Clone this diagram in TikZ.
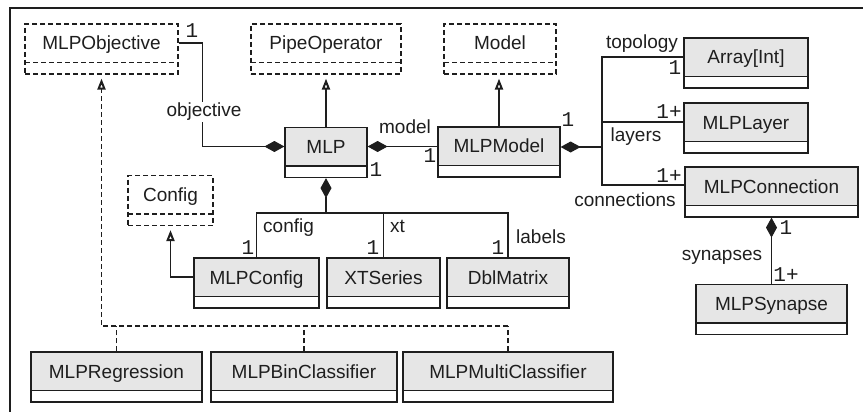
\documentclass[tikz,border=0pt]{standalone}
\usepackage{fontspec}
\setmainfont{Liberation Sans}
\newfontfamily\multfont{Liberation Mono}
\usetikzlibrary{arrows.meta,calc}
\definecolor{clsgrey}{HTML}{E6E6E6}
\definecolor{ink}{HTML}{1E1E1E}
\tikzset{
  clsfont/.style={font=\fontsize{19}{22}\selectfont},
  cls/.style={draw=ink, line width=1.2pt, fill=white, inner sep=0pt,
    text height=26pt, text depth=24pt, clsfont, text=ink,
    path picture={
      \fill[clsgrey] (path picture bounding box.north west) rectangle ([yshift=11.5pt]path picture bounding box.south east);
      \draw[ink, line width=1.2pt] ([yshift=11.5pt]path picture bounding box.south west) -- ([yshift=11.5pt]path picture bounding box.south east);}},
  dcls/.style={draw=ink, line width=1.1pt, dash pattern=on 5pt off 3pt, fill=white, inner sep=0pt,
    text height=26pt, text depth=24pt, clsfont, text=ink,
    path picture={
      \draw[ink, line width=1.1pt, dash pattern=on 5pt off 3pt] ([yshift=11.5pt]path picture bounding box.south west) -- ([yshift=11.5pt]path picture bounding box.south east);}},
  lbl/.style={clsfont, inner sep=1pt, text=ink},
  mult/.style={font=\multfont\fontsize{21}{22}\selectfont, inner sep=0pt, text=ink},
  wire/.style={draw=ink, line width=1.2pt},
  comp/.style={wire, {Diamond[length=20pt,width=11pt]}-},
  gen/.style={wire, -{Triangle[open,length=11pt,width=8pt,line width=2pt]}, shorten >=4pt},
  real/.style={gen, dash pattern=on 5pt off 3pt},
  rline/.style={wire, dash pattern=on 5pt off 3pt},
}
\begin{document}
\begin{tikzpicture}[x=1pt,y=-1pt]
\useasboundingbox (0,0) rectangle (863,412);
\draw[ink, line width=1.5pt] (10,412) -- (10,8) -- (863,8);

% classes
\node[dcls, minimum width=153pt] (obj) at (101.5,49) {MLPObjective};
\node[dcls, minimum width=150pt] (pipe) at (326,49) {PipeOperator};
\node[dcls, minimum width=112pt] (model) at (500,49) {Model};
\node[cls, minimum width=82pt] (mlp) at (326,152.5) {MLP};
\node[cls, minimum width=122pt] (mlpm) at (499,152) {MLPModel};
\node[cls, minimum width=124pt] (arr) at (746,63) {Array[Int]};
\node[cls, minimum width=124pt] (layer) at (746,128) {MLPLayer};
\node[cls, minimum width=173pt] (conn) at (771.5,192) {MLPConnection};
\node[cls, minimum width=151pt] (syn) at (771.5,309.5) {MLPSynapse};
\node[dcls, minimum width=85pt] (cfg) at (170.5,200.5) {Config};
\node[cls, minimum width=125pt] (mcfg) at (256.5,283) {MLPConfig};
\node[cls, minimum width=113pt] (xts) at (383.5,283) {XTSeries};
\node[cls, minimum width=122pt] (dbl) at (508,283) {DblMatrix};
\node[cls, minimum width=171pt] (reg) at (116.5,377) {MLPRegression};
\node[cls, minimum width=186pt] (bin) at (304,377) {MLPBinClassifier};
\node[cls, minimum width=210pt] (multi) at (508,377) {MLPMultiClassifier};

% junction points
\coordinate (jm) at (602,147);
\coordinate (jb) at (326,213);
\coordinate (rr) at (508,326);

% connectors
\draw[comp] ([yshift=6pt]mlp.west) -- ++(-82,0) |- ([yshift=6pt]obj.east);
\draw[gen] (mlp.north) -- (pipe.south);
\draw[gen] (mlpm.north) -- (mlpm.north |- model.south);
\draw[comp] ([yshift=6pt]mlp.east) -- ([yshift=6pt]mlp.east -| mlpm.west);
\draw[comp] ([yshift=5pt]mlpm.east) -- (jm);
\draw[wire] (jm) |- ([yshift=6pt]arr.west);
\draw[wire] (jm) |- ([yshift=6pt]layer.west);
\draw[wire] (jm) |- ([yshift=7pt]conn.west);
\draw[comp] (conn.south) -- (syn.north);
\draw[comp] (mlp.south) -- (jb);
\draw[wire] (jb) -| (mcfg.north);
\draw[wire] (jb) -| (xts.north);
\draw[wire] (jb) -| (dbl.north);
\draw[gen] ([yshift=6pt]mcfg.west) -| (cfg.south);
\draw[real] (rr) -| (obj.south);
\draw[rline] (reg.north) -- (reg.north |- rr);
\draw[rline] (bin.north) -- (bin.north |- rr);
\draw[rline] (multi.north) -- (rr);

% labels
\node[lbl, anchor=base, fill=white] (lobj) at (204,117) {objective};
\node[lbl, anchor=base] (lmodel) at (405,133) {model};
\node[lbl, anchor=base] (ltop) at (642,49) {topology};
\node[lbl, anchor=base] (llay) at (636,142) {layers};
\node[lbl, anchor=base] (lconn) at (625,206) {connections};
\node[lbl, anchor=base west] (lcfg) at (262,232) {config};
\node[lbl, anchor=base west] (lxt) at (389,232) {xt};
\node[lbl, anchor=base west] (llab) at (515,243) {labels};
\node[lbl, anchor=base] (lsyn) at (722,260) {synapses};

% multiplicities
\node[mult] (m1) at (192,31) {1};
\node[mult] (m2) at (430,156) {1};
\node[mult] (m3) at (376,170) {1};
\node[mult] (m4) at (568,120) {1};
\node[mult] (m5) at (675,68) {1};
\node[mult] (m6) at (669,112) {1+};
\node[mult] (m7) at (669,176) {1+};
\node[mult] (m8) at (248,248) {1};
\node[mult] (m9) at (373,248) {1};
\node[mult] (m10) at (498,248) {1};
\node[mult] (m11) at (786,228) {1};
\node[mult] (m12) at (786,275) {1+};
\end{tikzpicture}
\end{document}
